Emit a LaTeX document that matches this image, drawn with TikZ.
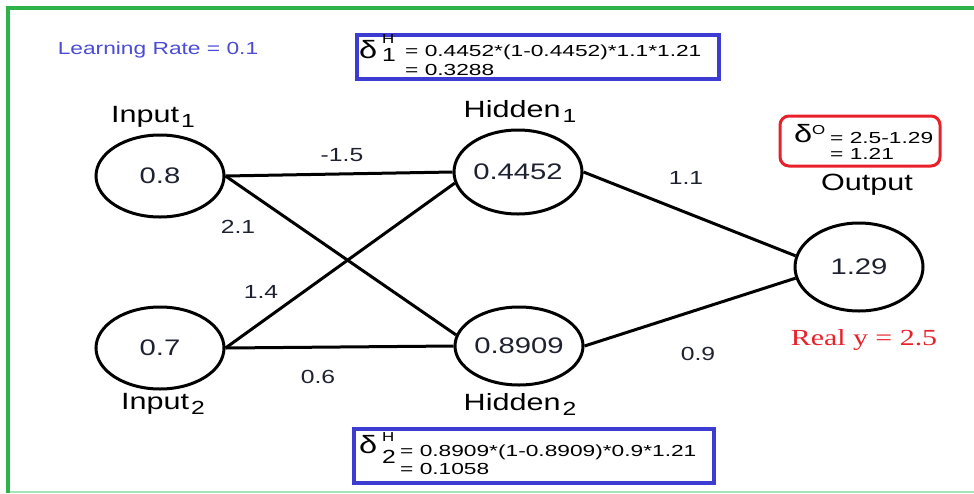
\documentclass[tikz,border=0pt]{standalone}
\usepackage{fontspec}
\setmainfont{Liberation Sans}[FakeStretch=1.3]
\newfontfamily\serifwide{Liberation Serif}[FakeStretch=1.3]
\newfontfamily\boxwide{Liberation Sans}[FakeStretch=1.42]
\usetikzlibrary{shapes.geometric}
\newcommand{\fsz}[1]{\fontsize{#1}{#1}\selectfont}
\newcommand{\subl}[1]{\hspace{2pt}\raisebox{-5pt}{\fsz{19}#1}}
\definecolor{framegreen}{HTML}{2DB34A}
\definecolor{lightgreen}{HTML}{A8E4B8}
\definecolor{boxblue}{HTML}{3C3CD2}
\definecolor{lrblue}{HTML}{4B4BD6}
\definecolor{realred}{HTML}{E8202A}
\definecolor{numink}{HTML}{1E2230}
\begin{document}
\begin{tikzpicture}[x=1pt,y=-1pt,
  neuron/.style={ellipse, draw, line width=3pt, minimum width=128pt, minimum height=82pt, inner sep=0pt, font=\fsz{22.5}, text=numink},
  wlabel/.style={inner sep=0pt, font=\fsz{19}, text=numink},
  title/.style={inner sep=0pt, anchor=base, font=\fsz{23.5}},
  conn/.style={line width=3pt},
  dbox/.style={draw=boxblue, line width=4pt, inner sep=0pt},
  dtext/.style={inner sep=0pt, anchor=base west, font=\boxwide\fsz{16}},
  dsym/.style={inner sep=0pt, anchor=base west, font=\fsz{25}},
  dsub/.style={inner sep=0pt, anchor=base west, font=\fsz{19}},
  dsup/.style={inner sep=0pt, anchor=base west, font=\fsz{13}}]
\useasboundingbox (0,0) rectangle (974,493);
% frame
\draw[lightgreen, line width=2pt] (8,492) -- (974,492);
\draw[framegreen, line width=4pt] (8,493) -- (8,7.5) -- (974,7.5);

% neurons
\node[neuron] (in1) at (160,176) {0.8};
\node[neuron] (in2) at (160,348) {0.7};
\node[neuron, minimum height=84pt] (h1) at (518,172) {0.4452};
\node[neuron, minimum height=78pt] (h2) at (519,346) {0.8909};
\node[neuron, minimum height=88pt] (out) at (859,267) {1.29};

% connections
\draw[conn] (in1.east) -- (h1.west);
\draw[conn] (in1.east) -- (h2.170);
\draw[conn] (in2.east) -- (h1.190);
\draw[conn] (in2.east) -- (h2.west);
\draw[conn] (h1.east) -- (out.170);
\draw[conn] (h2.east) -- (out.190);

% weights
\node[wlabel] (w1) at (342,155) {-1.5};
\node[wlabel] (w2) at (238,227) {2.1};
\node[wlabel] (w3) at (261,292) {1.4};
\node[wlabel] (w4) at (318,377) {0.6};
\node[wlabel] (w5) at (686,178) {1.1};
\node[wlabel] (w6) at (698,354) {0.9};

% titles
\node[title] (tin1) at (153,122) {Input\subl{1}};
\node[title] (tin2) at (163,409) {Input\subl{2}};
\node[title] (th1) at (520,117) {Hidden\subl{1}};
\node[title] (th2) at (520,410) {Hidden\subl{2}};
\node[title] (tout) at (867,190) {Output};
\node[inner sep=0pt, anchor=base, font=\serifwide\fsz{23}, text=realred] (real) at (864,345) {Real y = 2.5};
\node[inner sep=0pt, anchor=base, font=\fsz{17.5}, text=lrblue] (lr) at (158,54) {Learning Rate = 0.1};

% delta box hidden 1
\node[dbox, minimum width=362pt, minimum height=44pt] (b1) at (538,57) {};
\node[dsym] (b1d) at (359,58) {δ};
\node[dsup] (b1h) at (382,43) {H};
\node[dsub] (b1s) at (382,61) {1};
\node[dtext] (b1a) at (405,56) {= 0.4452*(1-0.4452)*1.1*1.21};
\node[dtext] (b1b) at (405,75) {= 0.3288};

% delta box hidden 2
\node[dbox, minimum width=360pt, minimum height=54pt] (b2) at (534,456) {};
\node[dsym] (b2d) at (359,453) {δ};
\node[dsup] (b2h) at (382,441) {H};
\node[dsub] (b2s) at (382,463) {2};
\node[dtext] (b2a) at (400,456) {= 0.8909*(1-0.8909)*0.9*1.21};
\node[dtext] (b2b) at (400,474) {= 0.1058};

% delta box output
\node[draw=realred, line width=3pt, rounded corners=9pt, minimum width=160pt, minimum height=50pt, inner sep=0pt] (bo) at (860,141) {};
\node[dsym] (bod) at (794,142) {δ};
\node[dsup] (boo) at (812,134) {O};
\node[dtext] (boa) at (830,143) {= 2.5-1.29};
\node[dtext] (bob) at (830,159) {= 1.21};
\end{tikzpicture}
\end{document}
